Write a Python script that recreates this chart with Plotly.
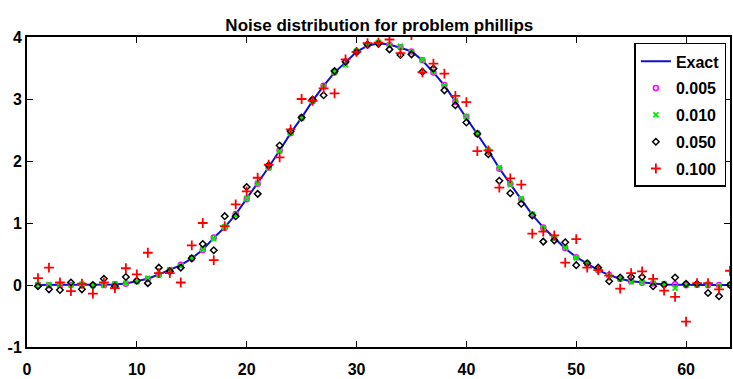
import plotly.graph_objects as go

x = list(range(1, 65))

exact = [0.0, 0.0, 0.0, 0.0, 0.0, 0.0, 0.005, 0.01, 0.025, 0.06,
         0.10, 0.17, 0.24, 0.32, 0.43, 0.57, 0.76, 0.93, 1.14, 1.39,
         1.63, 1.90, 2.17, 2.45, 2.70, 2.97, 3.21, 3.43, 3.59, 3.76,
         3.86, 3.90, 3.88, 3.83, 3.77, 3.62, 3.43, 3.22, 2.96, 2.71,
         2.44, 2.17, 1.88, 1.63, 1.38, 1.13, 0.93, 0.76, 0.59, 0.45,
         0.34, 0.24, 0.16, 0.10, 0.06, 0.04, 0.02, 0.01, 0.005, 0.0,
         0.0, 0.0, 0.0, 0.0]

noise_005 = [0.002, -0.004, 0.003, -0.002, 0.004, -0.003, 0.001, 0.012, 0.02, 0.065,
             0.096, 0.175, 0.236, 0.325, 0.428, 0.566, 0.765, 0.925, 1.145, 1.385,
             1.635, 1.895, 2.175, 2.447, 2.705, 2.965, 3.214, 3.428, 3.595, 3.758,
             3.864, 3.903, 3.876, 3.834, 3.768, 3.624, 3.428, 3.225, 2.955, 2.714,
             2.436, 2.174, 1.876, 1.634, 1.378, 1.134, 0.927, 0.764, 0.592, 0.447,
             0.343, 0.236, 0.163, 0.097, 0.062, 0.036, 0.024, 0.008, 0.012, -0.003,
             0.004, -0.006, 0.002, -0.001]

noise_010 = [0.006, 0.008, -0.01, 0.005, 0.012, -0.007, -0.009, 0.018, 0.03, 0.055,
             0.11, 0.16, 0.245, 0.31, 0.44, 0.58, 0.75, 0.94, 1.13, 1.40,
             1.64, 1.89, 2.16, 2.46, 2.69, 2.98, 3.20, 3.44, 3.55, 3.77,
             3.87, 3.91, 3.87, 3.85, 3.76, 3.63, 3.44, 3.21, 2.97, 2.72,
             2.45, 2.16, 1.89, 1.62, 1.39, 1.14, 0.92, 0.75, 0.60, 0.44,
             0.35, 0.25, 0.15, 0.11, 0.05, 0.045, 0.03, 0.02, -0.05, 0.01,
             0.005, 0.012, -0.01, 0.003]

noise_050 = [-0.02, -0.07, -0.08, 0.04, -0.07, 0.0, 0.10, -0.02, 0.13, 0.07,
             0.03, 0.28, 0.22, 0.28, 0.43, 0.66, 0.56, 1.11, 1.11, 1.58,
             1.47, 1.93, 2.25, 2.48, 2.70, 2.99, 3.06, 3.45, 3.60, 3.76,
             3.88, 3.89, 3.80, 3.71, 3.72, 3.44, 3.49, 3.14, 2.90, 2.62,
             2.44, 2.11, 1.68, 1.48, 1.31, 1.12, 0.70, 0.72, 0.69, 0.32,
             0.35, 0.28, 0.06, 0.12, 0.13, 0.13, -0.02, 0.005, 0.12, 0.02,
             0.02, -0.13, -0.18, 0.0]

noise_100 = [0.11, 0.28, 0.04, -0.10, 0.02, -0.14, 0.04, -0.05, 0.27, 0.17,
             0.52, 0.19, 0.19, 0.04, 0.64, 1.00, 0.40, 0.95, 1.30, 1.51,
             1.73, 1.94, 2.06, 2.51, 3.00, 2.97, 3.17, 3.09, 3.64, 3.76,
             3.90, 3.91, 3.96, 3.74, 4.03, 3.43, 3.57, 3.41, 3.05, 2.95,
             2.16, 2.17, 1.57, 1.72, 1.62, 0.83, 0.86, 0.80, 0.36, 0.74,
             0.28, 0.24, 0.15, -0.06, 0.19, 0.22, 0.10, -0.09, -0.19, -0.59,
             0.03, 0.03, -0.07, 0.23]

x_ticks = [0, 10, 20, 30, 40, 50, 60]
y_ticks = [-1, 0, 1, 2, 3, 4]
y_tick_labels = ["-1", "0", "1", "2", "3", "4"]

title_text = "Noise distribution for problem phillips"
font_family = "Liberation Sans, Arial, sans-serif"

fig = go.Figure()
fig.add_trace(go.Scatter(x=x, y=exact, mode="lines", name="Exact",
                         line=dict(color="#1010d0", width=2),
                         legendgroup="g0"))
fig.add_trace(go.Scatter(x=x, y=noise_005, mode="markers", name="0.005",
                         marker=dict(symbol="circle-open", size=5, color="#ff00ff",
                                     line=dict(width=1.5, color="#ff00ff")),
                         legendgroup="g1"))
fig.add_trace(go.Scatter(x=x, y=noise_010, mode="markers", name="0.010",
                         marker=dict(symbol="x-thin", size=5, color="#00ee00",
                                     line=dict(width=2, color="#00ee00")),
                         legendgroup="g2"))
fig.add_trace(go.Scatter(x=x, y=noise_050, mode="markers", name="0.050",
                         marker=dict(symbol="diamond-open", size=5, color="black",
                                     line=dict(width=1.5, color="black")),
                         legendgroup="g3"))
fig.add_trace(go.Scatter(x=x, y=noise_100, mode="markers", name="0.100",
                         marker=dict(symbol="cross-thin", size=7, color="#ff0000",
                                     line=dict(width=1.8, color="#ff0000")),
                         legendgroup="g4"))

axis_common = dict(showline=True, linecolor="black", linewidth=2, mirror="ticks",
                   ticks="inside", ticklen=6, tickwidth=1, tickcolor="black",
                   showgrid=False, zeroline=False,
                   tickfont=dict(family=font_family, size=16, color="black", weight="bold"))

fig.update_layout(
    width=733, height=379,
    margin=dict(l=27, r=1, t=37, b=26),
    paper_bgcolor="white", plot_bgcolor="white",
    title=dict(text=title_text, x=0.5175, xanchor="center", y=0.935, yanchor="middle",
               font=dict(family=font_family, size=17, color="black", weight="bold")),
    xaxis=dict(range=[0, 64], tickvals=x_ticks,
               ticklabelstandoff=7, **axis_common),
    yaxis=dict(range=[-1, 4], tickvals=y_ticks, ticktext=y_tick_labels, **axis_common),
    legend=dict(x=0.864, y=0.981, xanchor="left", yanchor="top",
                bordercolor="black", borderwidth=1.5, bgcolor="white",
                traceorder="grouped", tracegroupgap=3,
                font=dict(family=font_family, size=16, color="black", weight="bold")),
    showlegend=True,
)

fig.write_html("out.html")
